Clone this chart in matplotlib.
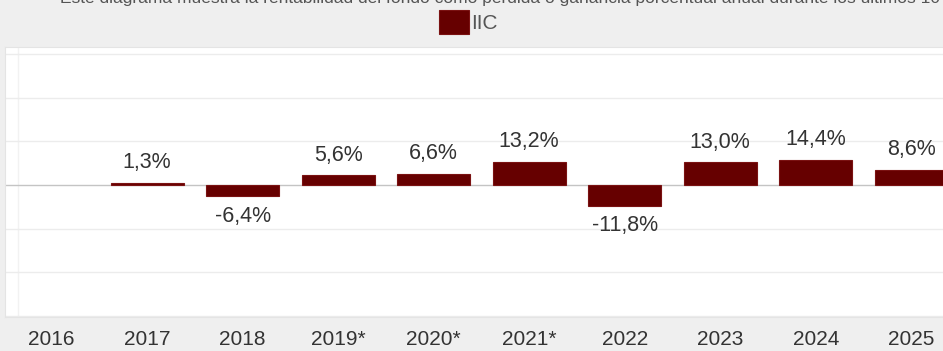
"""Annual return bar chart for the IIC fund (2016-2025)."""

import numpy as np
import matplotlib

matplotlib.use("Agg")
import matplotlib.pyplot as plt


years = ["2016", "2017", "2018", "2019*", "2020*", "2021*", "2022", "2023", "2024", "2025"]
returns = [np.nan, 1.3, -6.4, 5.6, 6.6, 13.2, -11.8, 13.0, 14.4, 8.6]
series_name = "IIC"
intro = ("Este diagrama muestra la rentabilidad del fondo como pérdida o ganancia "
         "porcentual anual durante los últimos 10 años")

BAR = "#660000"
BG = "#efefef"
TEXT = "#333333"
NARROW = ["Liberation Sans Narrow", "Liberation Sans", "DejaVu Sans"]
SANS = ["Liberation Sans", "DejaVu Sans"]


def fmt(v: float) -> str:
    return f"{v:.1f}".replace(".", ",") + "%"


fig = plt.figure(figsize=(9.43, 3.51), dpi=100, facecolor=BG)
W, H = 943, 351
left_px, right_px, top_px, bottom_px = 5, 959, 47, 317
ax = fig.add_axes([left_px / W, 1 - bottom_px / H,
                   (right_px - left_px) / W, (bottom_px - top_px) / H])
ax.set_facecolor("white")

x = np.arange(len(years))
bars = ax.bar(x, returns, width=0.765, color=BAR, edgecolor="#7a1212",
              linewidth=0.8, label=series_name, zorder=3)

for xi, v in zip(x, returns):
    if np.isnan(v):
        continue
    ax.annotate(fmt(v), (xi, v), xytext=(0, 7 if v >= 0 else -7),
                textcoords="offset points", ha="center",
                va="bottom" if v >= 0 else "top",
                fontsize=15.5, color=TEXT, family=SANS)

ax.set_xlim(-0.487, 9.5)
ax.set_ylim(-75.5, 79)
ax.set_yticks([-75, -50, -25, 25, 50, 75])
ax.yaxis.grid(True, color="#ececec", linewidth=1, zorder=0)
ax.axhline(0, color="#c4c4c4", linewidth=1, zorder=2)
ax.axvline(-0.35, color="#f2f2f2", linewidth=1, zorder=1)
ax.tick_params(axis="y", left=False, labelleft=False)
ax.set_xticks(x, years)
ax.tick_params(axis="x", length=0, pad=9.5, labelsize=15, colors=TEXT)
for lbl in ax.get_xticklabels():
    lbl.set_family(NARROW)
for sp in ax.spines.values():
    sp.set_color("#e4e4e4")

fig.legend(handles=[bars], labels=[series_name], loc="center",
           bbox_to_anchor=(468 / W, 1 - 22 / H), frameon=False,
           handlelength=1.45, handleheight=1.35, handletextpad=0.1,
           prop={"family": NARROW, "size": 15}, labelcolor="#555555")

fig.text(60 / W, 1 + 1.5 / H, intro, ha="left", va="center", fontsize=12.5,
         color="#555555", family=SANS)

fig.savefig("out.png", dpi=100, facecolor=BG)
